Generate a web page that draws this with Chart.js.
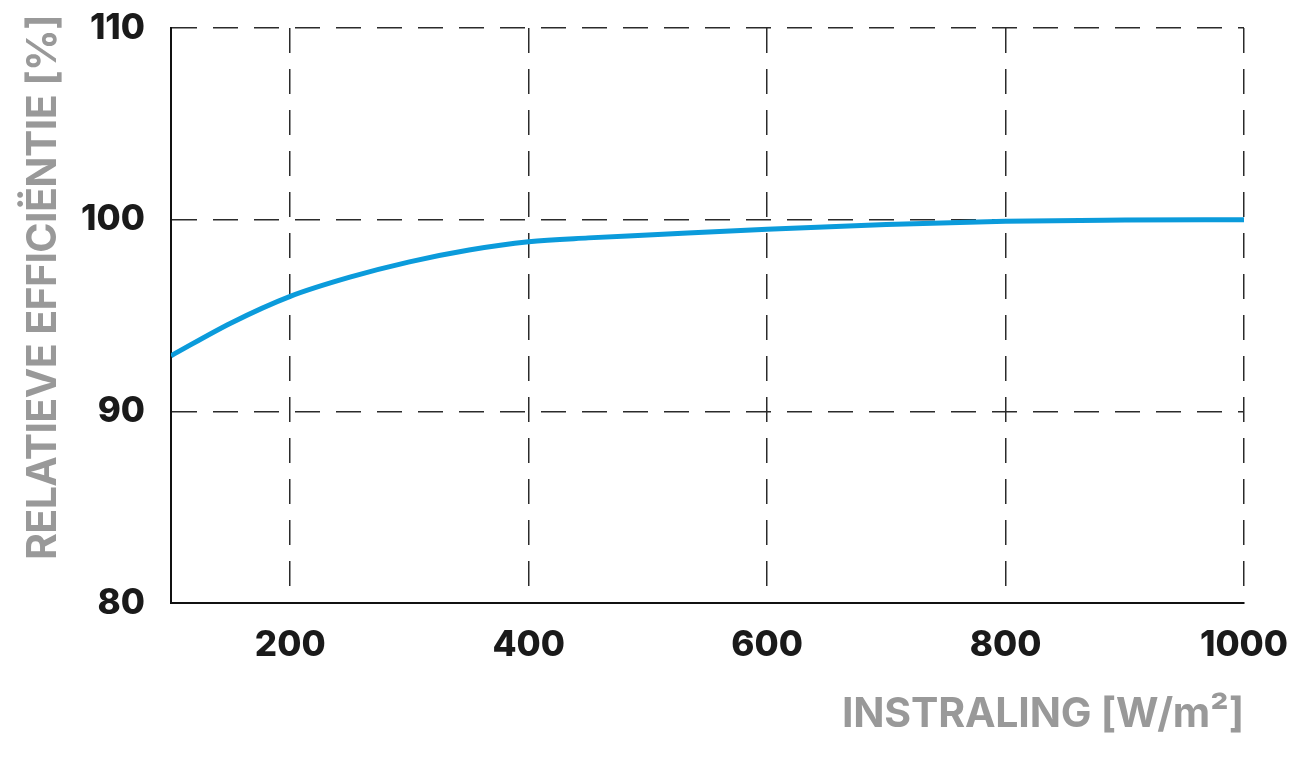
<!DOCTYPE html>
<html>
<head>
<meta charset="utf-8">
<script src="https://cdn.jsdelivr.net/npm/chart.js@4"></script>
<style>
  html, body { margin: 0; padding: 0; background: #fff; }
  #wrap { width: 1300px; height: 759px; }
</style>
</head>
<body>
<div id="wrap"><canvas id="efficiencyChart"></canvas></div>
<script>
const irradiance = [100, 150, 200, 250, 300, 350, 400, 450, 500, 600, 700, 800, 900, 1000];
const efficiency = [92.9, 94.6, 96.0, 97.0, 97.8, 98.42, 98.85, 99.05, 99.2, 99.5, 99.75, 99.92, 99.98, 100];
const xTicks = [200, 400, 600, 800, 1000];
const yTicks = [80, 90, 100, 110];
const xTitle = 'INSTRALING [W/m²]';
const yTitle = 'RELATIEVE EFFICIËNTIE [%]';

const tickFont = { family: 'Inter', size: 35, weight: '800' };
const gridStyle = { color: '#2b2b2b', lineWidth: 1.5, drawTicks: false };
const axisBorder = { display: true, color: '#111', width: 2, dash: [25, 16] };

// draws text squeezed / stretched by letter spacing to a given width
function fitText(ctx, text, x, y, width) {
  ctx.letterSpacing = '0px';
  const natural = ctx.measureText(text).width;
  ctx.letterSpacing = ((width - natural) / text.length) + 'px';
  ctx.fillText(text, x, y);
}

const axisTitles = {
  id: 'axisTitles',
  afterDraw(chart) {
    const ctx = chart.ctx;
    const area = chart.chartArea;
    ctx.save();
    ctx.fillStyle = '#999999';
    ctx.font = '700 41px Inter';
    ctx.textBaseline = 'alphabetic';
    ctx.textAlign = 'left';
    fitText(ctx, xTitle, area.right - 402, 727, 402);
    ctx.translate(56, 560);
    ctx.rotate(-Math.PI / 2);
    fitText(ctx, yTitle, 0, 0, 545);
    ctx.restore();
  }
};

new Chart(document.getElementById('efficiencyChart'), {
  type: 'line',
  data: {
    labels: irradiance,
    datasets: [{
      data: irradiance.map((x, i) => ({ x: x, y: efficiency[i] })),
      borderColor: '#0b9bdb',
      borderWidth: 5,
      pointRadius: 0,
      cubicInterpolationMode: 'monotone',
      fill: false
    }]
  },
  options: {
    responsive: true,
    maintainAspectRatio: false,
    animation: false,
    layout: { padding: { top: 28, right: 56, left: 0, bottom: 0 } },
    plugins: { legend: { display: false }, tooltip: { enabled: false } },
    scales: {
      x: {
        type: 'linear',
        min: 100,
        max: 1000,
        afterBuildTicks: (scale) => { scale.ticks = xTicks.map(v => ({ value: v })); },
        afterFit: (scale) => {
          scale.height = 156;
          scale.paddingLeft = 0;
          scale.paddingRight = 0;
        },
        grid: gridStyle,
        border: axisBorder,
        ticks: {
          font: tickFont, color: '#1a1a1a', padding: 21, maxRotation: 0,
          callback: (v) => String(v)
        }
      },
      y: {
        min: 80,
        max: 110,
        afterBuildTicks: (scale) => { scale.ticks = yTicks.map(v => ({ value: v })); },
        afterFit: (scale) => {
          scale.width = 171;
          scale.paddingTop = 0;
          scale.paddingBottom = 0;
        },
        grid: gridStyle,
        border: axisBorder,
        ticks: { font: tickFont, color: '#1a1a1a', padding: 26 }
      }
    }
  },
  plugins: [axisTitles]
});
</script>
</body>
</html>
